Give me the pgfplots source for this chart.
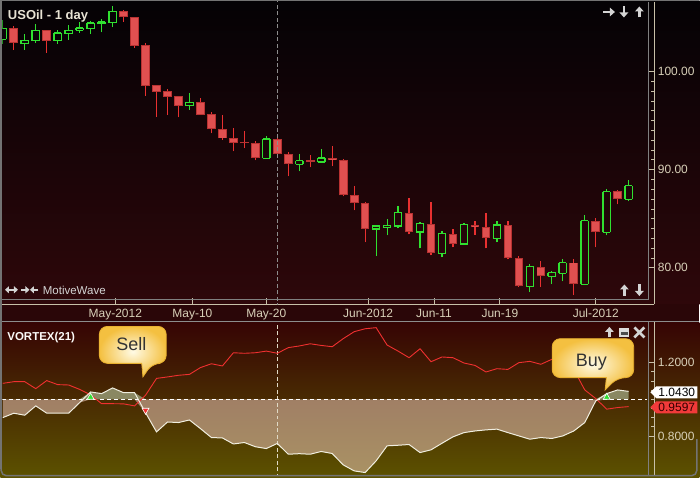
\documentclass[border=0pt]{standalone}
\usepackage{pgfplots}
\pgfplotsset{compat=1.18}
\usepackage{pgfplotstable}
\usetikzlibrary{arrows.meta}
\usepackage{fontspec}
\setmainfont{Liberation Sans}

\definecolor{bgtop}{HTML}{040205}
\definecolor{bgmid}{HTML}{0C0408}
\definecolor{bgbot}{HTML}{2E070A}
\definecolor{band}{HTML}{2A0608}
\definecolor{lowtop}{HTML}{360404}
\definecolor{lowmid}{HTML}{441605}
\definecolor{lowbot}{HTML}{5C5200}
\definecolor{tanlab}{HTML}{D8D0B8}
\definecolor{tanline}{HTML}{C8C0A8}
\definecolor{framegray}{HTML}{808080}
\definecolor{upc}{HTML}{30E030}
\definecolor{dnc}{HTML}{E83030}
\definecolor{dnedge}{HTML}{B83232}
\definecolor{dnfill}{HTML}{E05050}
\definecolor{vpc}{HTML}{F0EEE0}
\definecolor{vmc}{HTML}{F03030}
\definecolor{abovefill}{HTML}{8A8862}
\definecolor{belowfill}{HTML}{F8D4C8}
\definecolor{iconc}{HTML}{D4D4D4}
\definecolor{bubin}{HTML}{FFFBE6}
\definecolor{bubout}{HTML}{F4C040}
\definecolor{bubline}{HTML}{E8B030}

% up candles: low, body bottom, body top, high
\pgfplotstableread{
i L B T H
0 102.78 103.29 104.41 105.26
2 102.23 102.85 103.19 103.86
3 102.95 103.15 104.21 104.85
5 102.85 103.15 103.93 104.24
6 103.25 103.86 104.21 104.75
7 103.96 104.21 104.44 105.05
8 103.86 104.37 104.95 105.15
9 104.00 104.88 105.05 105.36
10 104.51 104.98 106.14 106.68
17 96.13 96.54 96.88 97.83
24 91.15 91.15 93.12 93.45
27 89.82 90.54 90.91 91.62
29 90.78 90.78 91.19 92.13
34 81.18 83.96 84.27 84.40
35 83.31 84.13 84.30 85.01
36 84.02 84.27 85.62 86.33
38 81.99 83.66 84.50 84.71
40 81.07 81.48 83.49 83.79
42 82.30 82.42 84.38 84.53
45 82.60 83.01 84.37 84.81
48 77.51 78.12 80.13 80.40
50 78.33 79.14 79.49 79.72
51 78.63 79.45 80.51 80.94
53 78.23 78.33 84.81 85.42
55 83.31 83.62 87.76 88.06
57 86.77 86.98 88.37 88.91
}\up

% down candles
\pgfplotstableread{
i L B T H
1 102.20 102.89 104.44 104.65
4 101.93 103.15 104.21 104.25
11 105.08 105.53 106.17 106.27
12 102.44 102.64 105.56 105.60
13 97.56 98.57 102.71 102.92
14 95.42 97.96 98.61 98.65
15 95.59 97.45 98.03 98.24
16 95.32 96.54 97.52 97.55
18 95.58 95.62 96.91 97.29
19 93.69 94.10 95.69 95.90
20 93.05 93.18 94.17 95.59
21 91.86 92.77 93.25 94.27
22 92.16 92.67 92.84 93.96
23 90.94 91.15 92.74 92.95
25 91.42 91.55 93.15 93.18
26 89.32 90.54 91.62 91.83
28 90.23 90.74 90.94 91.45
30 90.33 90.94 91.22 92.37
31 87.28 87.38 91.01 91.05
32 85.86 86.61 87.45 88.37
33 82.60 83.96 86.64 86.68
37 83.41 83.62 85.62 87.15
39 81.28 81.48 84.50 86.74
41 82.09 82.44 83.49 83.99
43 83.38 84.13 84.40 84.81
44 81.99 83.01 84.20 85.62
46 80.87 80.97 84.40 84.81
47 78.02 78.12 81.04 81.22
49 78.02 79.14 80.13 80.74
52 77.21 78.33 80.54 80.94
54 82.09 83.62 84.81 85.11
56 86.47 86.98 87.79 87.89
}\dn

% vortex: VI+ and VI-
\pgfplotstableread{
i vp vm
0 0.900 1.087
1 0.924 1.096
2 0.913 1.096
3 0.964 1.058
4 0.924 1.102
5 0.924 1.080
6 0.924 1.078
7 0.982 1.054
8 1.040 1.024
9 1.031 0.976
10 1.062 0.976
11 1.036 0.975
12 1.036 0.964
13 0.927 1.022
14 0.822 1.114
15 0.876 1.122
16 0.873 1.131
17 0.887 1.136
18 0.840 1.173
19 0.791 1.194
20 0.789 1.182
21 0.756 1.254
22 0.764 1.251
23 0.741 1.254
24 0.731 1.263
25 0.759 1.251
26 0.700 1.282
27 0.703 1.291
28 0.700 1.303
29 0.715 1.294
30 0.704 1.287
31 0.642 1.331
32 0.609 1.369
33 0.600 1.385
34 0.664 1.391
35 0.746 1.296
36 0.749 1.263
37 0.753 1.227
38 0.709 1.276
39 0.724 1.205
40 0.760 1.231
41 0.795 1.227
42 0.818 1.198
43 0.827 1.185
44 0.833 1.149
45 0.837 1.167
46 0.818 1.163
47 0.800 1.200
48 0.782 1.207
49 0.791 1.191
50 0.786 1.218
51 0.800 1.233
52 0.827 1.163
53 0.873 1.051
54 0.991 1.004
55 1.031 0.946
56 1.051 0.955
57 1.043 0.960
}\vortex

\pgfplotsset{
  vbar/.style 2 args={draw=none, mark=none, forget plot,
    error bars/.cd, y dir=plus, y explicit, error mark=none,
    error bar style={draw=#1, line width=#2}, /pgfplots/.cd},
  vside/.style={draw=none, mark=none, forget plot,
    error bars/.cd, y dir=plus, y explicit, error mark=none,
    error bar style={draw=upc, line width=1.3pt, line cap=square}, /pgfplots/.cd},
  hbar/.style={draw=none, mark=none, forget plot,
    error bars/.cd, x dir=both, x fixed=0.336, error mark=none,
    error bar style={draw=upc, line width=1.3pt, line cap=square}, /pgfplots/.cd},
  panel/.style={
    scale only axis, width=653pt,
    xmin=-0.0273, xmax=59.336,
    axis y line*=right,
    axis line style={draw=tanline, line width=1pt},
    tick align=inside, major tick length=6pt, minor tick length=3pt,
    tick style={draw=tanline, line width=0.8pt},
    ticklabel style={font=\fontsize{12}{14}\selectfont, text=tanlab},
    /pgf/number format/assume math mode=true,
  },
}

\begin{document}
\begin{tikzpicture}
\begin{scope}[x=1pt,y=-1pt]
\useasboundingbox (0,0) rectangle (700,478);
\fill[top color=bgtop, middle color=bgmid, bottom color=bgbot] (0,0) rectangle (700,305);
\fill[band] (0,305) rectangle (700,323);
\fill[top color=lowtop, middle color=lowmid, bottom color=lowbot] (0,323) rectangle (700,478);
\end{scope}

% price panel
\begin{axis}[panel,
  at={(2pt,-305pt)}, anchor=south west, height=303pt,
  ymin=76.266, ymax=107.09,
  axis x line*=bottom,
  xtick={10.25,17.27,24,33.27,39.27,45.27,54},
  xticklabels={May-2012,May-10,May-20,Jun-2012,Jun-11,Jun-19,Jul-2012},
  xticklabel style={yshift=-1pt},
  ytick={80,90,100}, minor y tick num=9,
  yticklabel style={/pgf/number format/.cd, fixed, fixed zerofill, precision=2},
]
% down candles: wick, body edge, body fill
\addplot[vbar={dnc}{1.2pt}] table[x=i, y=L, y error expr=\thisrow{H}-\thisrow{L}]{\dn};
\addplot[vbar={dnedge}{8.7pt}] table[x=i, y=B, y error expr=\thisrow{T}-\thisrow{B}]{\dn};
\addplot[vbar={dnfill}{6.7pt}]
  table[x=i, y expr=\thisrow{B}+0.1, y error expr={max(\thisrow{T}-\thisrow{B}-0.2,0)}]{\dn};
% up candles: wicks outside the hollow body
\addplot[vbar={upc}{1.2pt}] table[x=i, y=L, y error expr=\thisrow{B}-\thisrow{L}]{\up};
\addplot[vbar={upc}{1.2pt}] table[x=i, y=T, y error expr=\thisrow{H}-\thisrow{T}]{\up};
\addplot[vside] table[x expr=\thisrow{i}-0.336, y=B, y error expr=\thisrow{T}-\thisrow{B}]{\up};
\addplot[vside] table[x expr=\thisrow{i}+0.336, y=B, y error expr=\thisrow{T}-\thisrow{B}]{\up};
\addplot[hbar] table[x=i, y=B]{\up};
\addplot[hbar] table[x=i, y=T]{\up};
\draw[framegray!90, dash pattern=on 4pt off 2.5pt, line width=0.8pt]
  (axis cs:25,76) -- (axis cs:25,108);
\end{axis}

% vortex panel
\begin{axis}[panel,
  at={(2pt,-476pt)}, anchor=south west, height=153pt,
  ymin=0.5858, ymax=1.4196,
  axis x line=none,
  ytick={0.8,1.2}, minor y tick num=7,
  yticklabel style={/pgf/number format/.cd, fixed, fixed zerofill, precision=4},
]
\addplot[fill=belowfill, fill opacity=0.5, draw=none]
  table[x=i, y expr={min(\thisrow{vp},1)}]{\vortex}
  -- (axis cs:57,1) -- (axis cs:0,1) -- cycle;
\addplot[fill=abovefill, draw=none]
  table[x=i, y expr={max(\thisrow{vp},1)}]{\vortex}
  -- (axis cs:57,1) -- (axis cs:0,1) -- cycle;
\draw[tanlab!80, dash pattern=on 4pt off 2.5pt, line width=0.8pt]
  (axis cs:25,0.5) -- (axis cs:25,1.5);
\addplot[white, line width=1pt, dash pattern=on 4pt off 3pt]
  coordinates {(-0.03,1) (58.7,1)};
\addplot[vmc, line width=0.9pt] table[x=i, y=vm]{\vortex};
\addplot[vpc, line width=1pt] table[x=i, y=vp]{\vortex};
\addplot[only marks, mark=triangle*, mark size=4pt,
  mark options={fill=upc, draw=white, line width=0.6pt}]
  coordinates {(8,1.011) (55,1.011)};
\addplot[only marks, mark=triangle*, mark size=4pt,
  mark options={rotate=180, fill=vmc, draw=white, line width=0.6pt}]
  coordinates {(13,0.940)};
\end{axis}

\begin{scope}[x=1pt,y=-1pt]
% frames
\draw[framegray, line width=0.8pt] (2,300) -- (649,300) -- (649,2);
\draw[framegray, line width=0.8pt] (649,323) -- (649,476);
\draw[framegray!90, line width=1pt] (0,322.5) -- (700,322.5);
\draw[framegray!110, line width=1.5pt] (0.75,470) -- (0.75,0.75) -- (700,0.75);
\draw[framegray!110, line width=1.5pt, rounded corners=5pt] (0.75,420) -- (0.75,476.5) -- (697.5,476.5) -- (697.5,440);
% titles
\node[anchor=base west, inner sep=0, text=tanlab!60!white,
  font=\bfseries\fontsize{13}{15}\selectfont] at (7.3,19.5) {USOil - 1 day};
\node[anchor=base west, inner sep=0, text=white!92!tanlab,
  font=\bfseries\fontsize{11.5}{13}\selectfont] at (6.7,341) {VORTEX(21)};
\node[anchor=base west, inner sep=0, text=iconc,
  font=\fontsize{11.5}{13}\selectfont] at (42.3,295.5) {MotiveWave};
% icons
\begin{scope}[iconc, line width=2.4pt, >={Triangle[width=8.5pt,length=5pt]}]
\draw[->] (604,12) -- (615.5,12);
\draw[->] (624.5,6.5) -- (624.5,17.5);
\draw[->] (640,17.5) -- (640,6.5);
\draw[->] (625,296.5) -- (625,285);
\draw[->] (640,285) -- (640,296.5);
\draw[->] (610,338) -- (610,327.5);
\end{scope}
\begin{scope}[iconc, line width=2pt, >={Triangle[width=7pt,length=4pt]}]
\draw[<->] (4.5,290.3) -- (17.5,290.3);
\draw[->] (20.5,290.3) -- (29,290.3);
\draw[->] (38,290.3) -- (29.5,290.3);
\end{scope}
\fill[iconc!80] (620,329) rectangle (630,337.5);
\fill[framegray!60!black] (621.5,333) rectangle (628.5,336);
\draw[iconc, line width=2.6pt] (635,328) -- (645,338) (635,338) -- (645,328);
% value tags
\fill[white] (651,393) -- (657,387) -- (698,387) -- (698,399) -- (657,399) -- cycle;
\node[text=black, font=\fontsize{12}{14}\selectfont] at (677.5,393) {1.0430};
\fill[vmc!95!white] (651,408) -- (657,402) -- (698,402) -- (698,414) -- (657,414) -- cycle;
\node[text=black!80!red, font=\fontsize{12}{14}\selectfont] at (677.5,408) {0.9597};
% callouts
\draw[bubline, line width=0.8pt, inner color=bubin, outer color=bubout, rounded corners=8pt]
  (99,345) -- (99,327) -- (166,327) -- (166,364) -- (152,364) [sharp corners]
  -- (142.7,377.5) -- (141.5,364) [rounded corners=8pt] -- (99,364) -- cycle;
\node[anchor=base, text=black!80, font=\fontsize{18}{20}\selectfont] at (131,350.7) {Sell};
\draw[bubline, line width=0.8pt, inner color=bubin, outer color=bubout, rounded corners=8pt]
  (552.7,358) -- (552.7,339.3) -- (634.3,339.3) -- (634.3,378.3) -- (618,378.3) [sharp corners]
  -- (605.7,390.7) -- (607,378.3) [rounded corners=8pt] -- (552.7,378.3) -- cycle;
\node[anchor=base, text=black!80, font=\fontsize{18}{20}\selectfont] at (592,366.7) {Buy};
\end{scope}
\end{tikzpicture}
\end{document}
